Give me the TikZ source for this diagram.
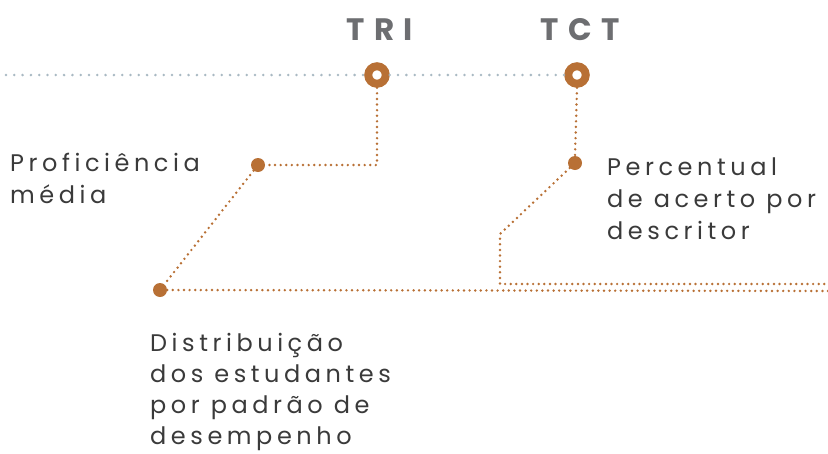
\documentclass[tikz,border=0pt]{standalone}
\usepackage{fontspec}
\setmainfont{Poppins}
\newfontfamily\lblfont[LetterSpace=19]{Poppins}
\newfontfamily\hdfont[LetterSpace=30]{Poppins}
\definecolor{brn}{HTML}{B87035}
\definecolor{hdgray}{HTML}{6D6E71}
\definecolor{txt}{HTML}{3A3A3A}
\definecolor{gline}{HTML}{A9B9C3}
\begin{document}
\begin{tikzpicture}[x=1pt,y=-1pt,
  bline/.style={brn, line width=2.7pt, dash pattern=on 0pt off 5.6pt, line cap=round},
  gdots/.style={gline, line width=2.8pt, dash pattern=on 0pt off 8.3pt, line cap=round},
  ring/.style={circle, draw=brn, line width=8pt, fill=white, minimum size=17.5pt, inner sep=0pt},
  bdot/.style={circle, fill=brn, minimum size=14pt, inner sep=0pt},
  hdr/.style={text=hdgray, font=\hdfont\bfseries\fontsize{31}{31}\selectfont, anchor=base},
  lbl/.style={text=txt, font=\lblfont\fontsize{24}{32}\selectfont, align=left, anchor=base west, inner sep=0pt},
  lblb/.style={lbl, font=\lblfont\fontsize{24}{31}\selectfont}]
\useasboundingbox (0,0) rectangle (828,453);
% coordinates
\coordinate (gstart) at (6,75);
\node[ring] (tri) at (377,75) {};
\node[ring] (tct) at (577,75) {};
\node[hdr] (trilbl) at (380,40) {TRI};
\node[hdr] (tctlbl) at (580,40) {TCT};
\node[bdot] (pm) at (258,165) {};
\node[bdot] (dist) at (160,290) {};
\node[bdot] (pct) at (575,163) {};
\coordinate (tric) at (377,165);
\coordinate (bend1) at (500,234);
\coordinate (bend2) at (500,284);
\coordinate (end1) at (828,291);
\coordinate (end2) at (828,284);
% gray line
\draw[gdots] (gstart) -- (tri.west);
\draw[gdots] (tri.east) -- (tct.west);
% brown connectors
\draw[bline] (tri.south) -- (tric) -- (pm.east);
\draw[bline] (pm) -- (dist);
\draw[bline] (dist.east) -- (end1);
\draw[bline] (tct.south) -- (pct.north);
\draw[bline] (pct) -- (bend1) -- (bend2) -- (end2);
% labels (base = last line baseline)
\node[lbl] (t1) at (10,203) {Proficiência\\média};
\node[lbl] (t2) at (607,239) {Percentual\\de acerto por\\descritor};
\node[lblb] (t3) at (150,444) {Distribuição\\dos estudantes\\por padrão de\\desempenho};
\end{tikzpicture}
\end{document}
